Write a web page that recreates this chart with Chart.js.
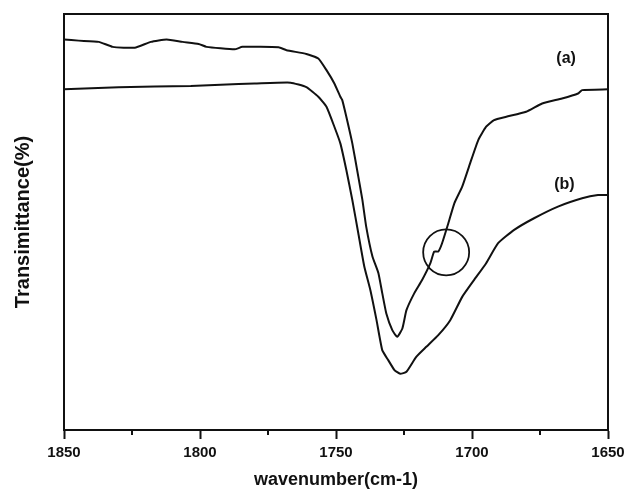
<!DOCTYPE html>
<html>
<head>
<meta charset="utf-8">
<script src="https://cdn.jsdelivr.net/npm/chart.js@4.4.1/dist/chart.umd.min.js"></script>
<style>
  html, body { margin: 0; padding: 0; background: #fff; }
  #wrap { width: 624px; height: 491px; }
</style>
</head>
<body>
<div id="wrap"><canvas id="ftir"></canvas></div>
<script>
// ---- spectrum (a) : wavenumber / transmittance (arb. units) ----
const waveA = [1850, 1844.6, 1837.2, 1832.1, 1824, 1818.1, 1812.3, 1806.4, 1800.5, 1797.6,
  1787.3, 1784.4, 1771.1, 1768.2, 1760.9, 1756.5, 1753.5, 1750.6, 1748.4, 1747.7,
  1746.2, 1744, 1741.8, 1740.3, 1738.9, 1736.6, 1734.4, 1733, 1731.5, 1729.3,
  1727.5, 1725.6, 1724.1, 1721.2, 1718.3, 1715.3, 1713.9, 1712.4, 1711, 1708.7,
  1706.5, 1703.6, 1700.7, 1697.7, 1694.8, 1691.9, 1687.4, 1680.1, 1674.2, 1666.9,
  1661, 1659.5, 1650];
const transA = [93.9, 93.6, 93.3, 92.1, 91.9, 93.3, 93.9, 93.3, 92.8, 92.1,
  91.5, 92.1, 92.0, 91.3, 90.4, 89.3, 86.5, 83.3, 80.1, 79.3,
  75.3, 68.9, 60.9, 55.3, 48.9, 41.7, 37.7, 32.9, 28.0, 24.0,
  22.4, 24.4, 28.8, 32.9, 36.1, 40.1, 42.9, 42.9, 44.9, 49.7,
  54.5, 58.5, 64.1, 69.7, 72.9, 74.5, 75.3, 76.5, 78.5, 79.7,
  80.9, 81.7, 81.9];

// ---- spectrum (b) ----
const waveB = [1850, 1829.9, 1803.4, 1785.8, 1780, 1766.7, 1760.9, 1756.5, 1753.5, 1750.6,
  1748.4, 1746.2, 1744, 1741.8, 1739.6, 1737.4, 1735.1, 1733, 1730.8, 1728.5,
  1726.4, 1724.1, 1720.5, 1716.8, 1712.4, 1708, 1703.6, 1699.2, 1694.8, 1690.4,
  1684.5, 1677.2, 1668.4, 1659.5, 1653.7, 1650];
const transB = [81.9, 82.4, 82.7, 83.2, 83.3, 83.5, 82.4, 80.1, 77.7, 72.9,
  68.9, 62.5, 55.3, 47.3, 39.3, 33.7, 26.4, 19.2, 16.8, 14.4,
  13.5, 14.0, 17.6, 20.0, 22.8, 26.4, 32.0, 36.1, 40.1, 44.9,
  48.1, 50.9, 53.7, 55.7, 56.5, 56.5];

// circled shoulder on (a)
const circleMark = [{ x: 1709.5, y: 42.7 }];

// curve labels
const curveLabels = ["(a)", "(b)"];
const labelPos = [{ x: 1665.4, y: 89.2 }, { x: 1666, y: 58.9 }];

// minor ticks between the labelled ones
const minorTicks = [1825, 1775, 1725, 1675];

const toPoints = (xs, ys) => xs.map((x, i) => ({ x: x, y: ys[i] }));

// frame around the plot, minor ticks, curve labels
const framePlugin = {
    id: "frame",
    afterDatasetsDraw(chart) {
        const { ctx, chartArea: a, scales } = chart;
        ctx.save();
        ctx.strokeStyle = "#111";
        ctx.lineWidth = 2;
        ctx.strokeRect(a.left, a.top, a.right - a.left, a.bottom - a.top);

        minorTicks.forEach(v => {
            const px = Math.round(scales.x.getPixelForValue(v));
            ctx.beginPath();
            ctx.moveTo(px, a.bottom);
            ctx.lineTo(px, a.bottom + 5);
            ctx.stroke();
        });

        ctx.fillStyle = "#111";
        ctx.font = "bold 16px 'Liberation Sans', Arial, sans-serif";
        ctx.textAlign = "center";
        ctx.textBaseline = "middle";
        curveLabels.forEach((t, i) => {
            ctx.fillText(t, scales.x.getPixelForValue(labelPos[i].x), scales.y.getPixelForValue(labelPos[i].y));
        });
        ctx.restore();
    }
};

new Chart(document.getElementById("ftir"), {
    type: "line",
    data: {
        datasets: [{
            label: "(a)",
            data: toPoints(waveA, transA),
            borderColor: "#111",
            borderWidth: 2,
            pointRadius: 0,
            tension: 0.15
        }, {
            label: "(b)",
            data: toPoints(waveB, transB),
            borderColor: "#111",
            borderWidth: 2,
            pointRadius: 0,
            tension: 0.15
        }, {
            label: "circle",
            type: "scatter",
            data: circleMark,
            pointRadius: 23,
            pointHoverRadius: 23,
            borderColor: "#111",
            borderWidth: 1.8,
            backgroundColor: "rgba(0,0,0,0)"
        }]
    },
    options: {
        responsive: true,
        maintainAspectRatio: false,
        animation: false,
        events: [],
        layout: { autoPadding: false, padding: { top: 14, right: 16, left: 0, bottom: 0 } },
        plugins: {
            legend: { display: false },
            tooltip: { enabled: false }
        },
        scales: {
            x: {
                type: "linear",
                min: 1650,
                max: 1850,
                reverse: true,
                afterFit(scale) {
                    scale.height = 61;
                    scale.paddingRight = 0;
                },
                grid: {
                    drawOnChartArea: false,
                    drawTicks: true,
                    tickLength: 9,
                    color: "#111",
                    tickWidth: 2
                },
                border: { display: true, color: "#111", width: 2 },
                ticks: {
                    stepSize: 50,
                    color: "#111",
                    padding: 5,
                    maxRotation: 0,
                    autoSkip: false,
                    font: { family: "'Liberation Sans', Arial, sans-serif", size: 15, weight: "bold" },
                    callback: v => String(v)
                },
                title: {
                    display: true,
                    text: "wavenumber(cm-1)",
                    color: "#111",
                    padding: { top: 0, bottom: 0 },
                    font: { family: "'Liberation Sans', Arial, sans-serif", size: 18, weight: "bold" }
                }
            },
            y: {
                min: 0,
                max: 100,
                afterFit(scale) { scale.width = 64; },
                grid: { display: false },
                border: { display: true, color: "#111", width: 2 },
                ticks: { display: false },
                title: {
                    display: true,
                    text: "Transimittance(%)",
                    color: "#111",
                    padding: { top: 11, bottom: 0 },
                    font: { family: "'Liberation Sans', Arial, sans-serif", size: 20, weight: "bold" }
                }
            }
        }
    },
    plugins: [framePlugin]
});
</script>
</body>
</html>
